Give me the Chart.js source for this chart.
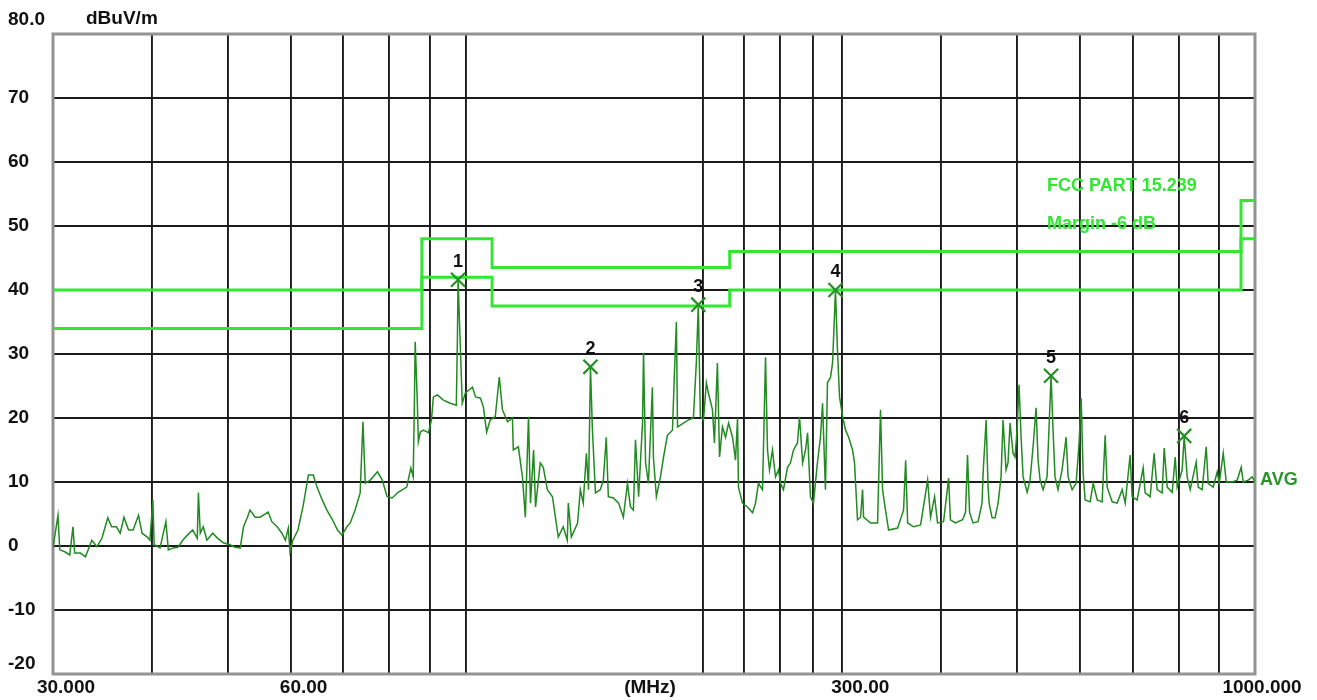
<!DOCTYPE html>
<html>
<head>
<meta charset="utf-8">
<title>EMI scan</title>
<script src="https://cdn.jsdelivr.net/npm/chart.js@4.4.0/dist/chart.umd.min.js"></script>
<style>
  html, body { margin: 0; padding: 0; background: #fff; }
  #wrap { width: 1317px; height: 700px; }
</style>
</head>
<body>
<div id="wrap"><canvas id="emiChart" width="1317" height="700"></canvas></div>
<script>
const traceFreq = [
  30.0, 30.44, 30.6, 31.05, 31.5, 31.8, 31.96, 32.5, 32.98, 33.6,
  34.1, 34.6, 35.2, 35.6, 36.1, 36.5, 36.9, 37.4, 37.9, 38.5,
  38.9, 39.5, 39.8, 40.15, 40.3, 41.0, 41.7, 42.0, 42.6, 43.2,
  43.8, 44.4, 45.1, 45.7, 45.85, 46.1, 46.5, 47.0, 47.8, 48.5,
  49.3, 50.3, 51.0, 51.8, 52.3, 52.9, 53.3, 54.1, 54.9, 56.2,
  56.8, 57.7, 58.5, 59.1, 59.6, 59.9, 60.4, 61.3, 62.2, 63.2,
  64.1, 64.8, 65.8, 66.7, 67.8, 68.8, 69.7, 70.7, 71.4, 72.4,
  73.5, 74.1, 74.6, 75.7, 77.3, 78.4, 79.5, 80.7, 82.1, 84.2,
  85.2, 85.8, 86.1, 86.3, 86.8, 87.1, 87.6, 88.4, 89.7, 90.5,
  91.0, 92.1, 93.7, 95.6, 97.3, 97.6, 97.8, 98.4, 99.0, 99.9,
  102.0, 102.9, 104.4, 105.3, 106.3, 107.4, 109.0, 110.3, 111.3, 113.0,
  114.6, 114.9, 116.6, 118.0, 119.0, 120.1, 120.8, 121.9, 122.6, 124.3,
  125.4, 126.9, 128.8, 129.9, 131.0, 132.9, 134.5, 134.9, 136.1, 138.6,
  139.7, 140.9, 142.2, 143.1, 143.9, 144.7, 146.0, 148.1, 149.4, 150.7,
  151.6, 153.9, 156.2, 158.4, 160.3, 161.7, 163.1, 164.1, 165.6, 167.5,
  168.0, 169.0, 170.4, 172.4, 172.9, 174.4, 176.5, 178.1, 180.1, 182.8,
  183.8, 184.9, 185.5, 187.1, 188.7, 191.6, 194.3, 196.0, 197.1, 198.3,
  200.1, 201.8, 203.0, 205.4, 206.6, 208.4, 209.7, 211.5, 213.4, 215.3,
  217.8, 219.7, 221.0, 221.6, 224.2, 227.5, 230.9, 232.9, 234.9, 237.7,
  239.8, 241.2, 242.6, 244.7, 246.9, 249.1, 250.5, 252.7, 255.7, 257.9,
  260.2, 263.2, 264.8, 267.2, 269.5, 271.1, 273.4, 275.8, 279.0, 281.5,
  283.2, 285.6, 287.3, 289.9, 291.6, 292.4, 294.1, 295.8, 297.6, 300.3,
  302.9, 305.6, 309.1, 310.9, 313.6, 316.4, 318.3, 319.2, 325.8, 332.5,
  335.4, 337.4, 340.3, 343.4, 352.5, 358.7, 360.9, 363.0, 369.3, 377.0,
  384.8, 388.1, 392.7, 396.1, 403.1, 409.1, 411.2, 417.3, 426.1, 429.8,
  432.3, 434.9, 439.3, 445.8, 451.0, 452.4, 456.4, 459.0, 460.4, 464.4,
  468.5, 472.6, 476.7, 479.5, 483.7, 486.5, 489.4, 493.7, 496.6, 499.5,
  502.4, 505.4, 508.4, 514.4, 518.8, 523.4, 528.0, 531.1, 534.2, 538.9,
  545.2, 548.4, 551.6, 554.8, 558.0, 562.9, 569.6, 576.4, 579.7, 586.5,
  593.4, 598.6, 602.2, 605.7, 609.2, 618.2, 623.7, 631.1, 640.2, 645.9,
  649.7, 659.2, 668.8, 678.8, 684.8, 694.7, 698.8, 709.0, 721.6, 725.8,
  736.5, 745.1, 751.6, 762.8, 767.3, 774.1, 785.4, 792.3, 796.9, 808.6,
  813.4, 820.5, 827.7, 842.3, 847.2, 857.2, 867.3, 872.4, 885.2, 895.6,
  900.9, 911.5, 919.5, 935.7, 949.4, 960.6, 966.3, 980.4, 991.9, 1000
];
const traceLevel = [
  -0.3, 4.8, -0.6, -0.9, -1.4, 3.0, -1.1, -1.1, -1.7, 0.9,
  -0.1, 1.2, 4.4, 3.0, 3.0, 2.0, 4.5, 2.5, 2.5, 4.8,
  2.0, 1.4, 0.9, 7.2, 0.2, -0.3, 3.8, -0.6, -0.3, -0.2,
  0.9, 1.7, 2.5, 1.2, 8.3, 2.0, 3.0, 0.9, 2.0, 1.2,
  0.5, 0.2, -0.2, -0.3, 3.0, 4.5, 5.6, 4.5, 4.5, 5.3,
  3.8, 3.0, 2.0, 0.9, 2.8, -0.9, 0.9, 2.5, 6.1, 11.1,
  11.1, 9.2, 7.2, 5.6, 4.1, 2.5, 1.7, 3.0, 3.6, 5.6,
  8.3, 19.4, 9.8, 10.3, 11.6, 10.3, 7.7, 7.5, 8.4, 9.2,
  12.2, 10.8, 22.5, 31.9, 23.3, 16.3, 17.8, 18.1, 17.7, 19.7,
  23.3, 23.6, 22.8, 22.3, 22.0, 32.2, 41.6, 31.7, 22.3, 23.9,
  24.8, 23.3, 23.1, 21.7, 17.8, 19.7, 20.2, 26.4, 21.3, 19.4,
  20.0, 15.0, 15.5, 10.8, 4.5, 20.2, 6.7, 15.0, 6.1, 13.0,
  12.3, 8.8, 7.7, 4.5, 1.4, 3.0, 0.9, 6.7, 1.4, 3.6,
  8.8, 6.7, 14.5, 8.8, 28.0, 18.4, 8.3, 8.8, 10.3, 17.0,
  7.7, 7.5, 6.7, 4.5, 9.8, 6.1, 5.6, 16.6, 7.7, 19.2,
  30.2, 13.0, 9.8, 24.8, 13.9, 7.7, 10.8, 13.9, 17.3, 18.1,
  26.7, 35.0, 18.6, 18.9, 19.2, 19.7, 20.0, 28.8, 37.7, 20.2,
  19.7, 25.5, 23.9, 21.3, 16.1, 28.6, 13.9, 18.6, 17.0, 19.2,
  17.0, 13.4, 20.0, 9.2, 6.7, 6.1, 5.2, 6.7, 9.8, 8.8,
  29.5, 15.0, 11.9, 15.0, 10.8, 11.9, 9.8, 8.8, 12.3, 13.0,
  15.0, 16.1, 20.2, 13.0, 15.0, 17.7, 7.7, 6.7, 13.0, 17.0,
  22.3, 8.8, 25.5, 26.4, 28.6, 32.2, 40.0, 30.6, 23.3, 20.2,
  18.1, 17.0, 15.0, 13.0, 4.1, 4.5, 8.8, 4.5, 3.6, 3.6,
  21.3, 8.8, 5.6, 2.5, 2.8, 5.6, 13.4, 3.6, 3.0, 3.3,
  10.3, 4.5, 7.7, 3.6, 3.8, 10.6, 4.1, 3.6, 4.1, 5.3,
  14.2, 5.2, 3.6, 3.8, 6.7, 11.4, 19.7, 9.2, 6.7, 4.4,
  4.4, 6.7, 10.8, 19.7, 11.9, 13.0, 19.2, 14.5, 13.9, 18.1,
  25.2, 17.0, 10.8, 8.4, 10.3, 15.5, 21.6, 13.4, 10.3, 8.8,
  10.8, 18.6, 26.6, 18.1, 10.8, 8.8, 11.9, 17.0, 10.8, 8.8,
  9.8, 16.1, 23.1, 11.4, 7.2, 6.9, 9.8, 7.2, 6.9, 17.3,
  9.2, 6.9, 6.7, 8.8, 6.7, 14.2, 7.7, 7.2, 12.2, 8.3,
  7.7, 14.5, 8.8, 8.3, 15.3, 9.2, 8.4, 13.9, 9.2, 11.9,
  17.2, 10.8, 8.8, 13.1, 9.2, 8.8, 15.5, 9.8, 9.2, 11.6,
  9.8, 14.5, 10.0, 10.0, 10.3, 12.3, 10.0, 10.3, 10.8, 10.0
];

// FCC Part 15.239 limit and the -6 dB margin line (step starts)
const limitFreq = [30, 88, 108, 216, 960, 1000];
const limitLevel = [40, 48, 43.5, 46, 54, 54];
const marginLevel = [34, 42, 37.5, 40, 48, 48];
const limitName = 'FCC PART 15.239';
const marginName = 'Margin -6 dB';

// marked peaks
const peakFreq = [97.8, 143.9, 197.1, 294.1, 551.6, 813.4];
const peakLevel = [41.6, 28.0, 37.7, 40.0, 26.6, 17.2];
const peakNames = ['1', '2', '3', '4', '5', '6'];

// grid and tick labels
const xGridFreq = [30, 40, 50, 60, 70, 80, 90, 100, 200, 225, 250, 275, 300, 400, 500, 600, 700, 800, 900, 1000];
const xTickFreq = [30, 60, 300, 1000];
const xTickText = ['30.000', '60.00', '300.00', '1000.000'];
const yTickValues = [80, 70, 60, 50, 40, 30, 20, 10, 0, -10, -20];
const yTickText = ['80.0', '70', '60', '50', '40', '30', '20', '10', '0', '-10', '-20'];

function toPoints(xs, ys) {
  return xs.map(function (x, i) { return { x: x, y: ys[i] }; });
}

const labelFont = 'bold 19px "Liberation Sans", Arial, sans-serif';

// frame, axis texts and peak numbers
const emiDecor = {
  id: 'emiDecor',
  beforeDatasetsDraw(chart) {
    const a = chart.chartArea;
    const c = chart.ctx;
    c.save();
    c.strokeStyle = '#939393';
    c.lineWidth = 3;
    c.strokeRect(a.left, a.top, a.right - a.left, a.bottom - a.top);
    c.restore();
  },
  afterDatasetsDraw(chart) {
    const a = chart.chartArea;
    const c = chart.ctx;
    const xs = chart.scales.x;
    const ys = chart.scales.y;
    c.save();
    c.fillStyle = '#111';
    c.font = labelFont;
    c.textBaseline = 'middle';

    // y labels
    c.textAlign = 'left';
    yTickValues.forEach(function (v, i) {
      let y = ys.getPixelForValue(v);
      if (i === 0) y = a.top - 14;
      if (i === yTickValues.length - 1) y = a.bottom - 10;
      c.fillText(yTickText[i], 8, y);
    });
    c.fillText('dBuV/m', 86, 19);

    // x labels
    const shift = [13, 13, 18, 7];
    c.textAlign = 'center';
    xTickFreq.forEach(function (f, i) {
      c.fillText(xTickText[i], xs.getPixelForValue(f) + shift[i], a.bottom + 14);
    });
    c.fillText('(MHz)', 650, a.bottom + 14);

    // limit names
    c.textAlign = 'left';
    c.fillStyle = '#33e633';
    c.font = 'bold 18px "Liberation Sans", Arial, sans-serif';
    c.fillText(limitName, 1047, 186);
    c.fillText(marginName, 1047, 224);

    // trace name
    c.fillStyle = '#2a962a';
    c.fillText('AVG', a.right + 5, ys.getPixelForValue(traceLevel[traceLevel.length - 1]) - 2);

    // peak numbers
    c.fillStyle = '#111';
    c.textAlign = 'center';
    c.font = 'bold 18px "Liberation Sans", Arial, sans-serif';
    peakFreq.forEach(function (f, i) {
      c.fillText(peakNames[i], xs.getPixelForValue(f), ys.getPixelForValue(peakLevel[i]) - 18);
    });
    c.restore();
  }
};

const ctx = document.getElementById('emiChart').getContext('2d');
const emiChart = new Chart(ctx, {
  type: 'line',
  data: {
    datasets: [
      {
        label: 'Peaks',
        type: 'scatter',
        data: toPoints(peakFreq, peakLevel),
        pointStyle: 'crossRot',
        pointRadius: 10,
        pointBorderWidth: 2.2,
        borderColor: '#268f26',
        backgroundColor: 'rgba(0,0,0,0)',
        showLine: false,
        order: 0
      },
      {
        label: limitName,
        data: toPoints(limitFreq, limitLevel),
        stepped: true,
        borderColor: '#33e633',
        borderWidth: 3,
        pointRadius: 0,
        fill: false,
        order: 1
      },
      {
        label: marginName,
        data: toPoints(limitFreq, marginLevel),
        stepped: true,
        borderColor: '#33e633',
        borderWidth: 3,
        pointRadius: 0,
        fill: false,
        order: 2
      },
      {
        label: 'AVG',
        data: toPoints(traceFreq, traceLevel),
        borderColor: '#218a21',
        borderWidth: 1.5,
        pointRadius: 0,
        tension: 0,
        fill: false,
        order: 3
      }
    ]
  },
  options: {
    responsive: false,
    animation: false,
    devicePixelRatio: 1,
    layout: { padding: { left: 53, top: 34, right: 62, bottom: 26 } },
    plugins: {
      legend: { display: false },
      tooltip: { enabled: false }
    },
    scales: {
      x: {
        type: 'logarithmic',
        min: 30,
        max: 1000,
        afterBuildTicks: function (scale) {
          scale.ticks = xGridFreq.map(function (v) { return { value: v }; });
        },
        ticks: { display: false },
        grid: { color: '#1a1a1a', lineWidth: 1.9, drawTicks: false },
        border: { display: false }
      },
      y: {
        type: 'linear',
        min: -20,
        max: 80,
        ticks: { display: false, stepSize: 10 },
        grid: { color: '#1a1a1a', lineWidth: 1.9, drawTicks: false },
        border: { display: false }
      }
    }
  },
  plugins: [emiDecor]
});
</script>
</body>
</html>
